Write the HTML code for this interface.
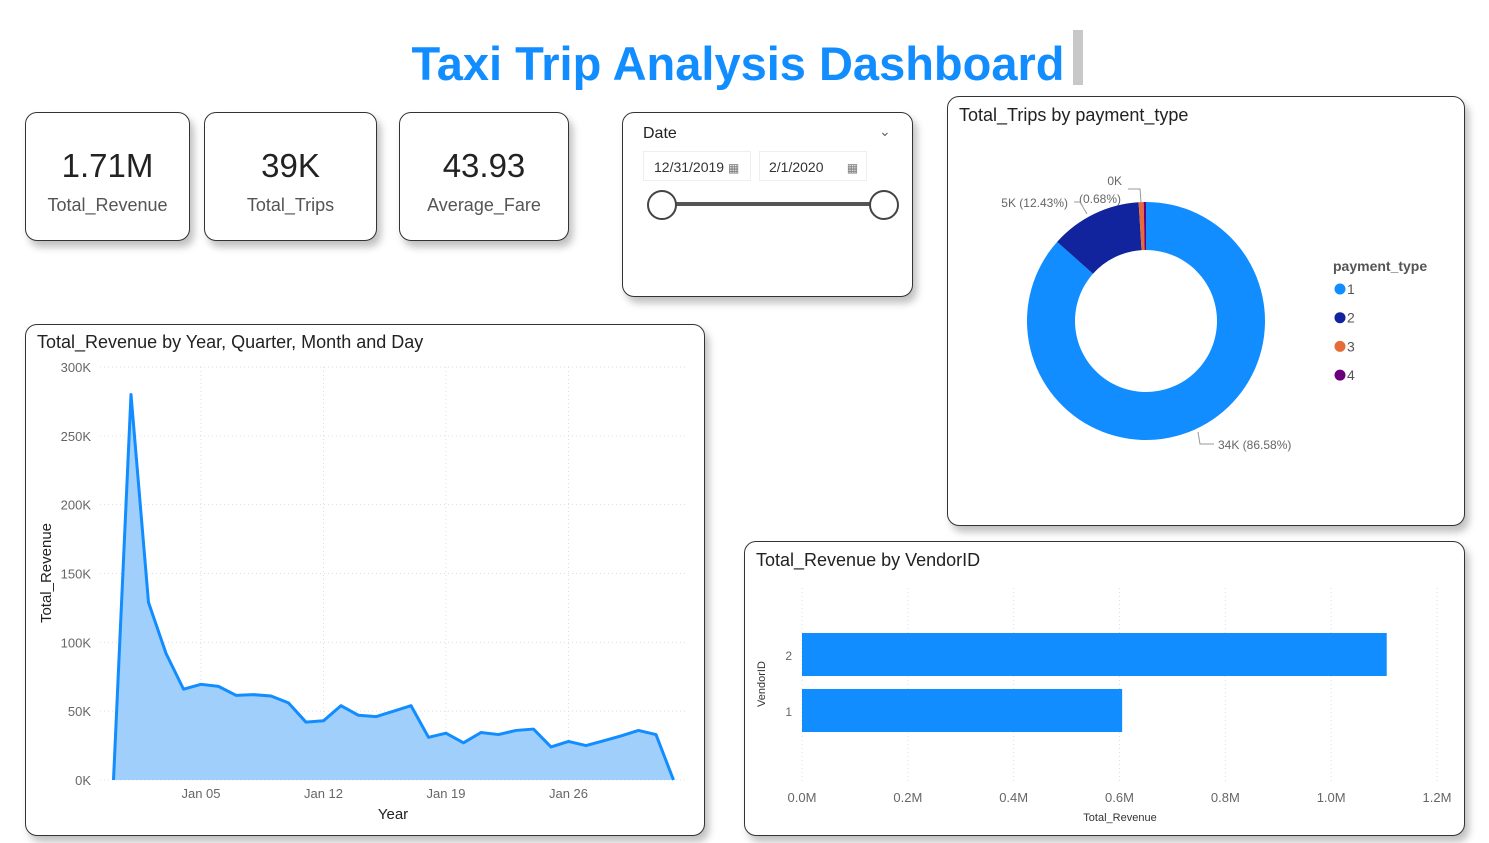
<!DOCTYPE html>
<html><head><meta charset="utf-8"><style>
body{margin:0;width:1489px;height:843px;background:#fff;position:relative;overflow:hidden;font-family:"Liberation Sans","DejaVu Sans",sans-serif;}
.card{position:absolute;background:#fff;border:1.5px solid #333;border-radius:12px;box-shadow:4px 6px 8px rgba(0,0,0,0.25);box-sizing:border-box;}
.kv{position:absolute;left:0;right:0;top:34px;text-align:center;font-size:33px;color:#222;}
.kl{position:absolute;left:0;right:0;top:82px;text-align:center;font-size:18px;color:#555;}
.ttl{position:absolute;font-size:18px;color:#222;}
svg text{font-family:"Liberation Sans",sans-serif;}
</style></head><body>
<div style="position:absolute;left:0;width:1476px;top:36px;text-align:center;font-size:47px;font-weight:bold;color:#118dff;">Taxi Trip Analysis Dashboard</div>
<div style="position:absolute;left:1073px;top:30px;width:10px;height:55px;background:#c8c8c8;"></div>

<div class="card" style="left:25px;top:112px;width:165px;height:129px;"><div class="kv">1.71M</div><div class="kl">Total_Revenue</div></div>
<div class="card" style="left:204px;top:112px;width:173px;height:129px;"><div class="kv">39K</div><div class="kl">Total_Trips</div></div>
<div class="card" style="left:399px;top:112px;width:170px;height:129px;"><div class="kv">43.93</div><div class="kl">Average_Fare</div></div>

<div class="card" style="left:622px;top:112px;width:291px;height:185px;">
<div style="position:absolute;left:20px;top:12px;font-size:16px;color:#222;">Date</div>
<div style="position:absolute;left:256px;top:10px;font-size:14px;color:#666;">&#8964;</div>
<div style="position:absolute;left:20px;top:38px;width:108px;height:30px;border:1px solid #eee;font-size:14px;color:#333;line-height:30px;padding-left:10px;box-sizing:border-box;">12/31/2019 <span style="font-size:12px;color:#777;">&#9638;</span></div>
<div style="position:absolute;left:136px;top:38px;width:108px;height:30px;border:1px solid #eee;font-size:14px;color:#333;line-height:30px;padding-left:9px;box-sizing:border-box;">2/1/2020 &nbsp;&nbsp;&nbsp;&nbsp; <span style="font-size:12px;color:#777;">&#9638;</span></div>
<div style="position:absolute;left:38px;top:89px;width:224px;height:4px;background:#555;"></div>
<div style="position:absolute;left:24px;top:77px;width:26px;height:26px;border:2px solid #444;border-radius:50%;background:#fff;"></div>
<div style="position:absolute;left:246px;top:77px;width:26px;height:26px;border:2px solid #444;border-radius:50%;background:#fff;"></div>
</div>

<div class="card" style="left:947px;top:96px;width:518px;height:430px;">
<div class="ttl" style="left:11px;top:8px;">Total_Trips by payment_type</div></div>
<div class="card" style="left:25px;top:324px;width:680px;height:512px;">
<div class="ttl" style="left:11px;top:7px;">Total_Revenue by Year, Quarter, Month and Day</div></div>
<div class="card" style="left:744px;top:541px;width:721px;height:295px;">
<div class="ttl" style="left:11px;top:8px;">Total_Revenue by VendorID</div></div>

<svg id="svg" width="1489" height="843" style="position:absolute;left:0;top:0;" xmlns="http://www.w3.org/2000/svg"></svg>
<script>
// Area chart data
const days = ["Dec 31","Jan 01","Jan 02","Jan 03","Jan 04","Jan 05","Jan 06","Jan 07","Jan 08","Jan 09","Jan 10","Jan 11","Jan 12","Jan 13","Jan 14","Jan 15","Jan 16","Jan 17","Jan 18","Jan 19","Jan 20","Jan 21","Jan 22","Jan 23","Jan 24","Jan 25","Jan 26","Jan 27","Jan 28","Jan 29","Jan 30","Jan 31","Feb 01"];
const revenueK = [0,280,129,92,66,69.5,68,61.5,62,61,56,42,43,54,47,46,50,54,31,34,27,34.5,33,36,37,24,28,25,28.5,32,36,33,0];
const yTicks = [0,50,100,150,200,250,300];
const xTickLabels = ["Jan 05","Jan 12","Jan 19","Jan 26"];
// Donut data
const payTypes = ["1","2","3","4"];
const payShare = [86.58,12.43,0.68,0.31];
const payColors = ["#118dff","#12239e","#e66c37","#6b007b"];
// Bar data
const vendors = ["2","1"];
const vendorRevM = [1.105,0.605];
const barTicks = [0,0.2,0.4,0.6,0.8,1.0,1.2];

const svg=document.getElementById('svg');const NS='http://www.w3.org/2000/svg';
function el(t,a,txt){const e=document.createElementNS(NS,t);for(const k in a)e.setAttribute(k,a[k]);if(txt!==undefined)e.textContent=txt;svg.appendChild(e);return e;}

// area chart axes
const ax=i=>131+(i-1)*17.5, ay=v=>780-v*(413/300);
yTicks.forEach(v=>{
 const g=el('line',{x1:100,x2:685,y1:ay(v),y2:ay(v),stroke:'#ddd','stroke-dasharray':'1,3'});
 
 const t=el('text',{x:91,y:ay(v)+5,'text-anchor':'end','font-size':13,fill:'#666'},v+'K');
 
});
xTickLabels.forEach(lbl=>{
 const i=days.indexOf(lbl);
 const g=el('line',{x1:ax(i),x2:ax(i),y1:367,y2:780,stroke:'#ddd','stroke-dasharray':'1,3'});
 
 const t=el('text',{x:ax(i),y:798,'text-anchor':'middle','font-size':13,fill:'#666'},lbl);
 
});
let pts=revenueK.map((v,i)=>ax(i)+','+ay(v)).join(' ');
const area=el('polygon',{points:ax(0)+','+ay(0)+' '+pts+' '+ax(revenueK.length-1)+','+ay(0),fill:'#9fcffa'});

const line=el('polyline',{points:pts,fill:'none',stroke:'#118dff','stroke-width':3,'stroke-linejoin':'round'});

let t=el('text',{x:393,y:819,'text-anchor':'middle','font-size':15,fill:'#222'},'Year');

t=el('text',{x:51,y:573,'text-anchor':'middle','font-size':15,fill:'#222',transform:'rotate(-90 51 573)'},'Total_Revenue');


// donut
const cx=1146,cy=321,R=119,r=71;let a0=0;const tot=payShare.reduce((a,b)=>a+b,0);
function P(a,rad){return [cx+rad*Math.sin(a),cy-rad*Math.cos(a)];}
payShare.forEach((s,i)=>{
 const a1=a0+s/tot*2*Math.PI,lg=(a1-a0)>Math.PI?1:0;
 const [x1,y1]=P(a0,R),[x2,y2]=P(a1,R),[x3,y3]=P(a1,r),[x4,y4]=P(a0,r);
 const p=el('path',{d:`M${x1},${y1}A${R},${R} 0 ${lg} 1 ${x2},${y2}L${x3},${y3}A${r},${r} 0 ${lg} 0 ${x4},${y4}Z`,fill:payColors[i]});
 
 a0=a1;
});
const lbls=[["34K (86.58%)",1218,449,'start'],["5K (12.43%)",1068,207,'end'],["(0.68%)",1121,203,'end'],["0K",1122,185,'end']];
lbls.forEach(l=>{const e=el('text',{x:l[1],y:l[2],'text-anchor':l[3],'font-size':12,fill:'#666'},l[0]);
 });
el('polyline',{points:'1198,432 1200,444 1214,444',fill:'none',stroke:'#999'});
el('polyline',{points:'1074,202 1080,202 1087,214',fill:'none',stroke:'#999'});
el('polyline',{points:'1128,189 1140,189 1141,202',fill:'none',stroke:'#999'});
t=el('text',{x:1333,y:271,'font-size':14,'font-weight':'bold',fill:'#555'},'payment_type');

payTypes.forEach((p,i)=>{
 const c=el('circle',{cx:1340,cy:289+i*28.7,r:5.5,fill:payColors[i]});
 
 const e=el('text',{x:1347,y:294+i*28.7,'font-size':14,fill:'#555'},p);
 
});

// bars
const bx=v=>802+v*(635/1.2);
barTicks.forEach(v=>{
 const g=el('line',{x1:bx(v),x2:bx(v),y1:588,y2:782,stroke:'#ddd','stroke-dasharray':'1,3'});
 
 const e=el('text',{x:bx(v),y:802,'text-anchor':'middle','font-size':13,fill:'#666'},v.toFixed(1)+'M');
 
});
vendors.forEach((v,i)=>{
 const y=633+i*56;
 const b=el('rect',{x:bx(0),y:y,width:bx(vendorRevM[i])-bx(0),height:43,fill:'#118dff'});
 
 const e=el('text',{x:792,y:y+27,'text-anchor':'end','font-size':12,fill:'#666'},v);
 
});
t=el('text',{x:1120,y:821,'text-anchor':'middle','font-size':11,fill:'#333'},'Total_Revenue');

t=el('text',{x:765,y:684,'text-anchor':'middle','font-size':11,fill:'#333',transform:'rotate(-90 765 684)'},'VendorID');

</script>
</body></html>
